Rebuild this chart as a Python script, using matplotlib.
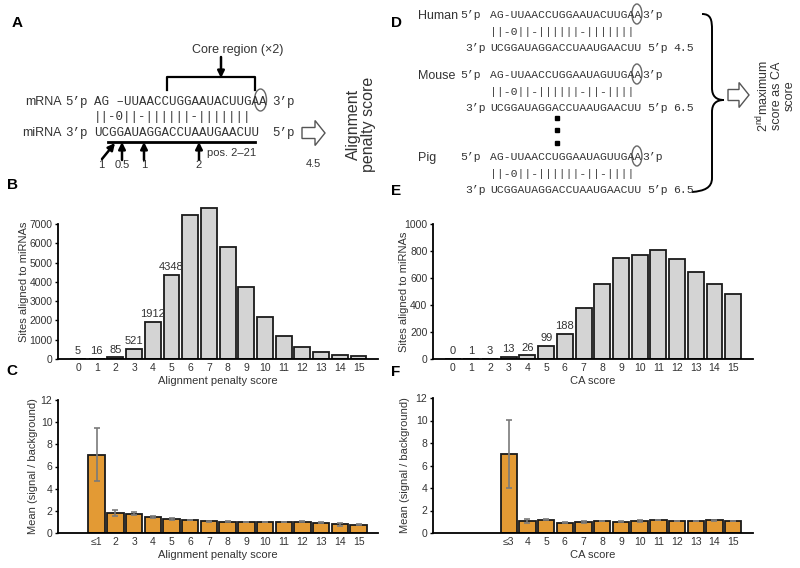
import numpy as np
import matplotlib
matplotlib.use('Agg')
import matplotlib.pyplot as plt
from matplotlib import patches
from matplotlib.path import Path

plt.rcParams['font.family'] = ['Liberation Sans', 'DejaVu Sans']
plt.rcParams['mathtext.fontset'] = 'custom'
plt.rcParams['mathtext.rm'] = 'Liberation Sans'
MONO = 'Liberation Mono'
TXT = '#333333'

# B: sites aligned to miRNAs per alignment penalty score
ap_scores = np.arange(16)
ap_sites = [5, 16, 85, 521, 1912, 4348, 7460, 7810, 5820, 3720, 2190, 1190, 640, 360, 220, 160]
ap_labelled = 6

# E: sites per CA score
ca_scores = np.arange(16)
ca_sites = [0, 1, 3, 13, 26, 99, 188, 380, 555, 746, 770, 805, 739, 644, 553, 481]
ca_labelled = 7

# C: mean signal/background per alignment penalty score
ap_pos = np.arange(1, 16)
ap_ticklabels = ['≤1'] + [str(i) for i in range(2, 16)]
ap_mean = [7.07, 1.80, 1.74, 1.44, 1.26, 1.17, 1.05, 1.02, 0.99, 0.98, 0.99, 1.02, 0.93, 0.78, 0.76]
ap_err = [2.4, 0.25, 0.15, 0.10, 0.05, 0.04, 0.03, 0.03, 0.03, 0.03, 0.03, 0.04, 0.04, 0.12, 0.07]

# F: mean signal/background per CA score
ca_pos = np.arange(3, 16)
ca_ticklabels = ['≤3'] + [str(i) for i in range(4, 16)]
ca_mean = [7.02, 1.07, 1.19, 0.92, 0.98, 1.07, 1.01, 1.07, 1.16, 1.07, 1.07, 1.13, 1.07]
ca_err = [3.04, 0.20, 0.05, 0.06, 0.08, 0.04, 0.04, 0.05, 0.04, 0.03, 0.03, 0.03, 0.03]

# A / D: alignment diagrams
mirna = 'UCGGAUAGGACCUAAUGAACUU'
mrna_a = 'AG –UUAACCUGGAAUACUUGAA'
pairs_a = '||-0||-||||||-|||||||'
penalties = ['1', '0.5', '1', '2']
species = ['Human', 'Mouse', 'Pig']
species_mrna = ['AG-UUAACCUGGAAUACUUGAA', 'AG-UUAACCUGGAAUAGUUGAA', 'AG-UUAACCUGGAAUAGUUGAA']
species_pairs = ['||-0||-||||||-|||||||', '||-0||-||||||-||-||||', '||-0||-||||||-||-||||']
species_score = ['4.5', '6.5', '6.5']

W, H = 800, 568
fig = plt.figure(figsize=(8, 5.68), dpi=100)

# overlay in pixel coordinates for the diagrams and panel letters
ax0 = fig.add_axes([0, 0, 1, 1])
ax0.set_xlim(0, W)
ax0.set_ylim(H, 0)
ax0.axis('off')


def px_axes(x0, y0, x1, y1):
    ax = fig.add_axes([x0 / W, 1 - y1 / H, (x1 - x0) / W, (y1 - y0) / H])
    ax.set_facecolor('none')
    return ax


def mono(x, y, s, size, ha='left'):
    ax0.text(x, y, s, fontsize=size, family=MONO, ha=ha, va='center', color=TXT)


def cw(size):
    return 0.6 * size * 100 / 72


def black_arrow(x0, y0, x1, y1):
    ax0.annotate('', xy=(x1, y1), xytext=(x0, y0),
                 arrowprops=dict(arrowstyle='-|>', color='k', lw=1.8,
                                 mutation_scale=10, shrinkA=0, shrinkB=0))


def hollow_arrow(x, y, length):
    ax0.add_patch(patches.FancyArrow(x, y, length, 0, width=11, head_width=25,
                                     head_length=10, length_includes_head=True,
                                     fc='white', ec='#555555', lw=1))


# ---- panel letters
for lab, (x, y) in zip('ABCDEF', [(17, 23), (12, 185), (12, 371),
                                  (397, 23), (396, 191), (396, 372)]):
    ax0.text(x, y, lab, fontsize=11, fontweight='bold', ha='center', va='center')

# ---- panel A
sa = 9
ax0.text(238, 50, 'Core region (×2)', fontsize=9, ha='center', va='center', color=TXT)
black_arrow(221, 57, 221, 78)
ax0.plot([167, 167, 255, 255], [90, 77, 77, 90], color='k', lw=1.6)
ax0.text(25, 102, 'mRNA', fontsize=9, va='center', color=TXT)
mono(65, 102, '5’p', sa)
mono(94, 102, mrna_a, sa)
ax0.add_patch(patches.Ellipse((94 + 22.2 * cw(sa), 100), 12, 22, fill=False, ec='#666666', lw=1))
mono(272, 102, '3’p', sa)
mono(94, 117, pairs_a, sa)
ax0.text(22, 133, 'miRNA', fontsize=9, va='center', color=TXT)
mono(65, 133, '3’p', sa)
mono(94, 133, mirna, sa)
mono(272, 133, '5’p', sa)
ax0.plot([108, 255], [142, 142], color='k', lw=2)
ax0.text(207, 153, 'pos. 2–21', fontsize=8, va='center', color=TXT)
black_arrow(102, 159, 115, 143)
for x in [122, 144, 199]:
    black_arrow(x, 160, x, 142)
for x, p in zip([101, 122, 144, 199], penalties):
    ax0.text(x, 165, p, fontsize=8, ha='center', va='center', color=TXT)
hollow_arrow(302, 133, 23)
ax0.text(313, 164, '4.5', fontsize=8, ha='center', va='center', color=TXT)
ax0.text(361, 124, 'Alignment\npenalty score', fontsize=11.5, rotation=90,
         ha='center', va='center', linespacing=1.05, color=TXT)

# ---- panel D
sd = 8.2
for name, y, mr, pr, sc in zip(species, [15, 75, 157], species_mrna, species_pairs, species_score):
    ax0.text(418, y + 1, name, fontsize=9, va='center', color=TXT)
    mono(460, y, '5’p', sd)
    mono(490, y, mr, sd)
    ax0.add_patch(patches.Ellipse((490 + 21.5 * cw(sd), y - 1), 10, 20, fill=False,
                                  ec='#666666', lw=1))
    mono(490 + 22 * cw(sd) + 2, y, '3’p', sd)
    mono(490, y + 17, pr, sd)
    mono(465, y + 33, '3’p', sd)
    mono(490, y + 33, mirna, sd)
    mono(490 + 23 * cw(sd), y + 33, '5’p', sd)
    mono(673, y + 33, sc, sd)
ax0.plot([557, 557, 557], [118, 130, 143], 's', color='k', ms=2.2)

brace = Path([(702, 14), (711, 14), (712, 20), (712, 30), (712, 88),
              (712, 96), (716, 100), (724, 100),
              (716, 100), (712, 104), (712, 112), (712, 178),
              (712, 188), (704, 191), (692, 192)],
             [Path.MOVETO, Path.CURVE4, Path.CURVE4, Path.CURVE4, Path.LINETO,
              Path.CURVE4, Path.CURVE4, Path.CURVE4,
              Path.CURVE4, Path.CURVE4, Path.CURVE4, Path.LINETO,
              Path.CURVE4, Path.CURVE4, Path.CURVE4])
ax0.add_patch(patches.PathPatch(brace, fill=False, lw=1.4, ec='k'))
hollow_arrow(728, 95, 21)
ax0.text(775, 96, '2$^{\\rm nd}$maximum\nscore as CA\nscore', fontsize=9, rotation=90,
         ha='center', va='center', linespacing=1.05, color=TXT)


# ---- bar panels
def style(ax, xlim, ylim, yticks, xlabel, ylabel, label_x):
    ax.set_xlim(*xlim)
    ax.set_ylim(*ylim)
    for s in ['top', 'right']:
        ax.spines[s].set_visible(False)
    for s in ['left', 'bottom']:
        ax.spines[s].set_linewidth(1.3)
    ax.spines['left'].set_bounds(yticks[0], yticks[-1])
    ax.set_yticks(yticks)
    ax.tick_params(axis='x', length=0, pad=3, labelsize=7.5, labelcolor=TXT)
    ax.tick_params(axis='y', length=2.5, width=1, pad=1.5, labelsize=7.5, labelcolor=TXT)
    ax.set_xlabel(xlabel, fontsize=8, color=TXT, labelpad=2)
    ax.set_ylabel(ylabel, fontsize=8, color=TXT)
    ax.yaxis.set_label_coords(label_x, 0.5)


gray_kw = dict(width=0.85, color='#d4d4d4', edgecolor='#1a1a1a', linewidth=1.3)
orange_kw = dict(width=0.88, color='#E39A34', edgecolor='#1a1a1a', linewidth=1.3,
                 error_kw=dict(ecolor='#7a7a7a', elinewidth=1.2, capsize=2.5, capthick=1.2))

axB = px_axes(58, 205, 378, 359)
bars = axB.bar(ap_scores, ap_sites, **gray_kw)
axB.bar_label(bars, labels=[str(v) if i < ap_labelled else '' for i, v in enumerate(ap_sites)],
              padding=2, fontsize=8, color=TXT)
axB.set_xticks(ap_scores)
style(axB, (-1.07, 16.04), (0, 7985), np.arange(0, 7001, 1000),
      'Alignment penalty score', 'Sites aligned to miRNAs', -0.09)

axE = px_axes(433, 224, 753, 359)
bars = axE.bar(ca_scores, ca_sites, **gray_kw)
axE.bar_label(bars, labels=[str(v) if i < ca_labelled else '' for i, v in enumerate(ca_sites)],
              padding=2, fontsize=8, color=TXT)
axE.set_xticks(ca_scores)
style(axE, (-1.05, 16.06), (0, 1000), np.arange(0, 1001, 200),
      'CA score', 'Sites aligned to miRNAs', -0.074)

axC = px_axes(58, 400, 378, 533)
axC.bar(ap_pos, ap_mean, yerr=ap_err, **orange_kw)
axC.set_xticks(ap_pos)
axC.set_xticklabels(ap_ticklabels)
style(axC, (-1.07, 16.04), (0, 12), np.arange(0, 13, 2),
      'Alignment penalty score', 'Mean (signal / background)', -0.061)

axF = px_axes(433, 398, 753, 533)
axF.bar(ca_pos, ca_mean, yerr=ca_err, **orange_kw)
axF.set_xticks(ca_pos)
axF.set_xticklabels(ca_ticklabels)
style(axF, (-1.05, 16.06), (0, 12), np.arange(0, 13, 2),
      'CA score', 'Mean (signal / background)', -0.072)

fig.savefig('out.png', dpi=100)
